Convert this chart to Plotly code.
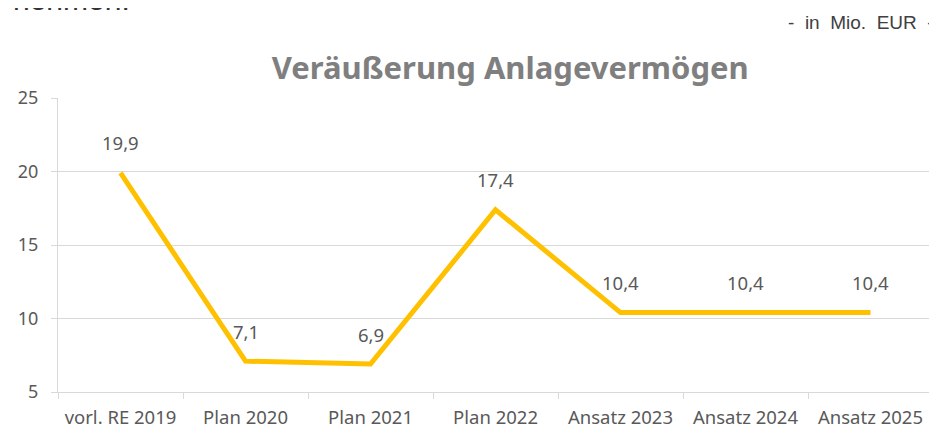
import plotly.graph_objects as go

categories = ["vorl. RE 2019", "Plan 2020", "Plan 2021", "Plan 2022", "Ansatz 2023", "Ansatz 2024", "Ansatz 2025"]
values = [19.9, 7.1, 6.9, 17.4, 10.4, 10.4, 10.4]
labels = ["19,9", "7,1", "6,9", "17,4", "10,4", "10,4", "10,4"]
y_ticks = [5, 10, 15, 20, 25]

FONT = "Noto Sans"
GRAY = "#595959"
GRID = "#d9d9d9"
NB = "\u00a0"

fig = go.Figure()
fig.add_trace(go.Scatter(
    x=categories, y=values, mode="lines",
    line=dict(color="#FFC000", width=5),
    hoverinfo="skip", showlegend=False,
))

for c, v, t in zip(categories, values, labels):
    fig.add_annotation(x=c, y=v, text=t, showarrow=False, yshift=30,
                       font=dict(family=FONT, size=18.5, color=GRAY))

unit_text = NB.join(["-", "", "in", "", "Mio.", "", "EUR", "", "-"])
fig.add_annotation(xref="paper", yref="paper", x=1.0034, y=1.2585, xanchor="right", yanchor="middle",
                   text=unit_text, showarrow=False,
                   font=dict(family="Liberation Sans, Arial", size=19, color="#404040"))
fig.add_annotation(xref="paper", yref="paper", x=-0.0537, y=1.272, xanchor="left", yanchor="bottom",
                   text="nehmen.", showarrow=False,
                   font=dict(family="Liberation Sans, Arial", size=30, color="#333333"))

fig.update_layout(
    width=937, height=429,
    margin=dict(l=50, r=12, t=90, b=45),
    paper_bgcolor="white", plot_bgcolor="white",
    title=dict(text="<b>Veräußerung Anlagevermögen</b>", x=0.536, xanchor="center",
               y=0.86, yanchor="middle",
               font=dict(family=FONT, size=31, color="#7f7f7f")),
    xaxis=dict(type="category", range=[-0.5, 6.5], showgrid=False, automargin=False,
               showline=True, linecolor=GRID, linewidth=1,
               ticks="outside", tickson="boundaries", ticklen=6, tickcolor=GRID,
               ticklabelstandoff=9,
               tickfont=dict(family=FONT, size=18.5, color=GRAY)),
    yaxis=dict(range=[5, 25], tickvals=y_ticks, showgrid=True, gridcolor=GRID, gridwidth=1,
               showline=True, linecolor=GRID, linewidth=1, zeroline=False, automargin=False,
               ticks="outside", ticklen=6, tickcolor=GRID,
               ticklabelstandoff=9,
               tickfont=dict(family=FONT, size=18, color=GRAY)),
)

fig.write_html("out.html")
